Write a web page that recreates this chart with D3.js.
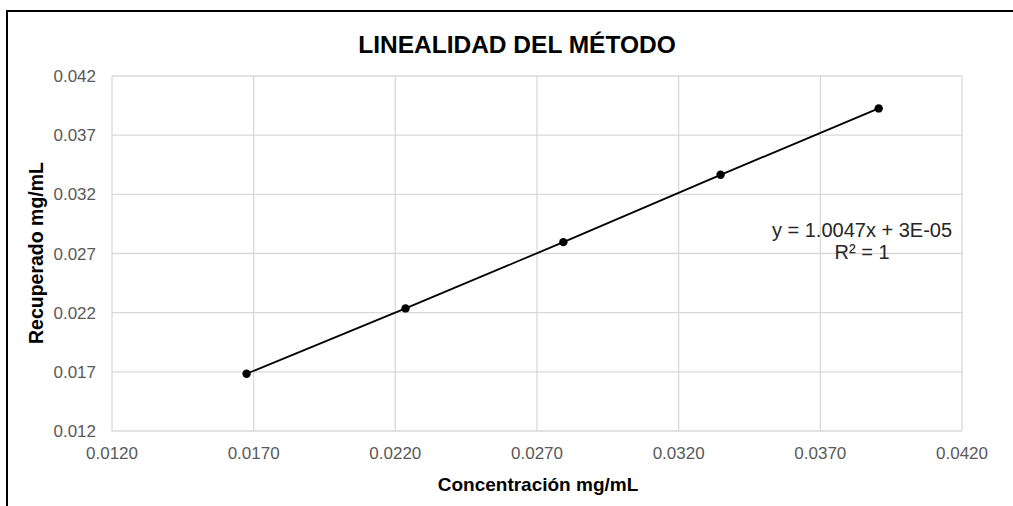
<!DOCTYPE html>
<html>
<head>
<meta charset="utf-8">
<script src="https://cdn.jsdelivr.net/npm/d3@7"></script>
<style>
  body { margin: 0; background: #fff; }
  svg { display: block; font-family: Arial, "Liberation Sans", sans-serif; }
</style>
</head>
<body>
<svg id="chart" width="1013" height="506"></svg>
<script>
// ---- DATA ----
const concentracion = [0.01675, 0.02236, 0.02793, 0.03348, 0.03906];
const recuperado    = [0.01684, 0.02236, 0.02796, 0.03365, 0.03926];
const xTicks = [0.012, 0.017, 0.022, 0.027, 0.032, 0.037, 0.042];
const yTicks = [0.012, 0.017, 0.022, 0.027, 0.032, 0.037, 0.042];
const eqLines = ['y = 1.0047x + 3E-05', 'R² = 1'];

const svg = d3.select('#chart');

// outer frame
svg.append('path')
  .attr('d', 'M7,506 V11 H1013')
  .attr('fill', 'none')
  .attr('stroke', '#000')
  .attr('stroke-width', 2);

const m = { left: 112, right: 962, top: 76, bottom: 431 };
const x = d3.scaleLinear().domain([0.012, 0.042]).range([m.left, m.right]);
const y = d3.scaleLinear().domain([0.012, 0.042]).range([m.bottom, m.top]);

// gridlines
const grid = svg.append('g').attr('stroke', '#d9d9d9').attr('stroke-width', 1.3);
grid.selectAll('.gx').data(xTicks).join('line')
  .attr('x1', d => x(d)).attr('x2', d => x(d))
  .attr('y1', m.top).attr('y2', m.bottom);
grid.selectAll('.gy').data(yTicks).join('line')
  .attr('x1', m.left).attr('x2', m.right)
  .attr('y1', d => y(d)).attr('y2', d => y(d));

// tick labels
svg.append('g').selectAll('text').data(xTicks).join('text')
  .attr('x', d => x(d)).attr('y', 459)
  .attr('text-anchor', 'middle')
  .attr('font-size', 17).attr('fill', '#595959')
  .text(d => d.toFixed(4));
svg.append('g').selectAll('text').data(yTicks).join('text')
  .attr('x', 96).attr('y', d => y(d) + 6)
  .attr('text-anchor', 'end')
  .attr('font-size', 17).attr('fill', '#595959')
  .text(d => d.toFixed(3));

// series line + markers
const pts = concentracion.map((c, i) => [c, recuperado[i]]);
svg.append('path')
  .datum(pts)
  .attr('fill', 'none')
  .attr('stroke', '#000')
  .attr('stroke-width', 1.8)
  .attr('d', d3.line().x(d => x(d[0])).y(d => y(d[1])));
svg.append('g').selectAll('circle').data(pts).join('circle')
  .attr('cx', d => x(d[0])).attr('cy', d => y(d[1]))
  .attr('r', 4.2).attr('fill', '#000');

// trendline equation
svg.append('text')
  .attr('x', 862).attr('y', 237)
  .attr('text-anchor', 'middle')
  .attr('font-size', 20).attr('fill', '#262626')
  .selectAll('tspan').data(eqLines).join('tspan')
  .attr('x', 862).attr('dy', (d, i) => i ? 22 : 0)
  .text(d => d);

// titles
svg.append('text')
  .attr('x', 517).attr('y', 53)
  .attr('text-anchor', 'middle')
  .attr('font-size', 24.5).attr('font-weight', 'bold').attr('fill', '#000')
  .text('LINEALIDAD DEL MÉTODO');
svg.append('text')
  .attr('x', 538).attr('y', 491)
  .attr('text-anchor', 'middle')
  .attr('font-size', 19).attr('font-weight', 'bold').attr('fill', '#000')
  .text('Concentración mg/mL');
svg.append('text')
  .attr('transform', 'translate(43,253) rotate(-90)')
  .attr('text-anchor', 'middle')
  .attr('font-size', 19.5).attr('font-weight', 'bold').attr('fill', '#000')
  .text('Recuperado mg/mL');
</script>
</body>
</html>
